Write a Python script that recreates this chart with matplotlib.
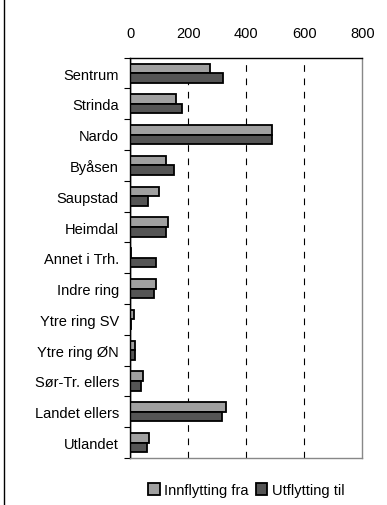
import numpy as np
import matplotlib.pyplot as plt
from matplotlib.lines import Line2D

plt.rcParams['font.family'] = ['Liberation Sans', 'DejaVu Sans']

# data
omrader = ['Sentrum', 'Strinda', 'Nardo', 'Byåsen', 'Saupstad', 'Heimdal',
           'Annet i Trh.', 'Indre ring', 'Ytre ring SV', 'Ytre ring ØN',
           'Sør-Tr. ellers', 'Landet ellers', 'Utlandet']
innflytting = [276, 157, 488, 124, 99, 132, 2, 88, 15, 17, 46, 329, 66]
utflytting = [319, 178, 488, 152, 61, 124, 91, 82, 3, 17, 37, 316, 57]
xticks = [0, 200, 400, 600, 800]

fig = plt.figure(figsize=(3.87, 5.06), dpi=100)
ax = fig.add_axes([0.336, 0.093, 0.6, 0.791])

y = np.arange(len(omrader))
h = 0.31
ax.barh(y - h / 2, innflytting, height=h, color='#a0a0a0', edgecolor='black',
        linewidth=1.3, label='Innflytting fra', zorder=3)
ax.barh(y + h / 2, utflytting, height=h, color='#555555', edgecolor='black',
        linewidth=1.3, label='Utflytting til', zorder=3)

ax.set_xlim(0, 800)
ax.set_ylim(len(omrader) - 0.5, -0.5)
ax.set_xticks(xticks)
ax.xaxis.tick_top()
ax.tick_params(axis='x', length=0, labelsize=10.5, pad=13)
ax.set_yticks(y)
ax.set_yticklabels(omrader, fontsize=10.5)
ax.tick_params(axis='y', which='major', length=0, pad=8)
ax.set_yticks(np.arange(-0.5, len(omrader) + 0.5, 1), minor=True)
ax.tick_params(axis='y', which='minor', length=4, direction='out', width=0.8)

# grid lines, excel style
for v in xticks[1:-1]:
    ax.axvline(v, color='black', linestyle=(0, (6, 6)), linewidth=0.8, zorder=1)
ax.axvline(0, color='black', linewidth=1, zorder=4)

ax.spines['top'].set_color('black')
ax.spines['left'].set_color('black')
ax.spines['right'].set_color('#888888')
ax.spines['bottom'].set_color('#888888')
for s in ax.spines.values():
    s.set_linewidth(1)

ax.legend(loc='upper center', bbox_to_anchor=(0.50, -0.03), ncol=2, frameon=False,
          fontsize=10.5, handlelength=0.8, handleheight=0.8, handletextpad=0.3,
          columnspacing=0.5)

fig.add_artist(Line2D([4 / 387, 4 / 387], [0, 1], color='black', linewidth=1,
                      transform=fig.transFigure))

fig.savefig('out.png', dpi=100)
